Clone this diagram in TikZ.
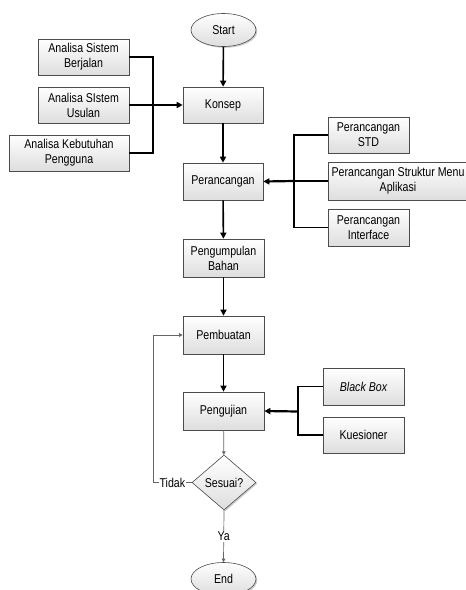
\documentclass[tikz,border=0pt]{standalone}
\usepackage{fontspec}
\setmainfont[FakeStretch=0.83]{Liberation Sans}
\usetikzlibrary{shapes.geometric,shadows,arrows.meta}
\tikzset{
  basefont/.style={font=\fontsize{12.8}{15}\selectfont},
  box/.style={basefont, draw=black!70, line width=0.6pt, top color=white, bottom color=black!13,
    drop shadow={shadow xshift=1.3pt, shadow yshift=-1.3pt, fill=black!40, opacity=0.5},
    align=center, inner sep=1pt},
  term/.style={box, ellipse, minimum width=65pt, minimum height=33pt, inner sep=0pt},
  decision/.style={box, diamond, minimum width=64pt, minimum height=55pt, inner sep=0pt},
  flow/.style={draw=black, line width=1.6pt, -{Triangle[length=6pt,width=6pt]}},
  bus/.style={draw=black, line width=1.3pt},
  busarrow/.style={draw=black, line width=2.2pt, -{Triangle[length=6pt,width=6pt]}},
  thinline/.style={draw=black!60, line width=0.7pt},
  thinarrow/.style={thinline, -{Triangle[length=3.5pt,width=3.5pt]}},
  lbl/.style={basefont, fill=white, inner sep=1pt}
}
\begin{document}
\begin{tikzpicture}[x=1pt,y=-1pt]
\useasboundingbox (0,0) rectangle (466,590);
% main column
\node[term] (start) at (223.5,30) {Start};
\node[box, minimum width=80pt, minimum height=36pt] (konsep) at (223,105) {Konsep};
\node[box, minimum width=80pt, minimum height=37pt] (peran) at (223,181.5) {Perancangan};
\node[box, minimum width=81pt, minimum height=38pt] (pb) at (223.5,258) {Pengumpulan\\Bahan};
\node[box, minimum width=81pt, minimum height=38pt] (pemb) at (223.5,335) {Pembuatan};
\node[box, minimum width=81pt, minimum height=38pt] (peng) at (223.5,411) {Pengujian};
\node[decision] (ses) at (224,482.5) {Sesuai?};
\node[term] (end) at (223.5,579) {End};
% left inputs
\node[box, minimum width=91pt, minimum height=36pt] (asb) at (83.5,57) {Analisa Sistem\\Berjalan};
\node[box, minimum width=91pt, minimum height=36pt] (asu) at (83.5,105) {Analisa SIstem\\Usulan};
\node[box, minimum width=120pt, minimum height=36pt] (akp) at (69,153) {Analisa Kebutuhan\\Pengguna};
% right inputs
\node[box, minimum width=81pt, minimum height=36pt] (pstd) at (368.5,135) {Perancangan\\STD};
\node[box, minimum width=140pt, minimum height=38pt] (psm) at (398,181) {Perancangan Struktur Menu\\Aplikasi};
\node[box, minimum width=81pt, minimum height=37pt] (pint) at (368.5,227.5) {Perancangan\\Interface};
\node[box, minimum width=81pt, minimum height=37pt] (bb) at (363.5,386.5) {\itshape Black Box};
\node[box, minimum width=81pt, minimum height=36pt] (kue) at (363.5,435) {Kuesioner};
% bus junctions
\coordinate (bl) at (153,105);
\coordinate (br) at (294,181);
\coordinate (bk) at (298,411.5);
\coordinate (tk) at (153,482.5);
% connectors
\draw[flow] (start) -- (konsep);
\draw[flow] (konsep) -- (peran);
\draw[flow] (peran) -- (pb);
\draw[flow] (pb) -- (pemb);
\draw[flow] (pemb) -- (peng);
\draw[bus] (asb.east) -| (bl);
\draw[bus] (akp.east) -| (bl);
\draw[bus] (asu.east) -- (bl);
\draw[busarrow] (bl) -- (konsep.west);
\draw[bus] (pstd.west) -| (br);
\draw[bus] (pint.west) -| (br);
\draw[bus] (psm.west) -- (br);
\draw[busarrow] (br) -- (peran.east);
\draw[bus] (bb.west) -| (bk);
\draw[bus] (kue.west) -| (bk);
\draw[busarrow] (bk) -- (peng.east);
\draw[thinarrow] (peng) -- (ses);
\draw[thinarrow] (ses.west) -- node[lbl] {Tidak} (tk) |- (pemb.west);
\draw[thinarrow] (ses.south) -- node[lbl] {Ya} (end.north);
\end{tikzpicture}
\end{document}
